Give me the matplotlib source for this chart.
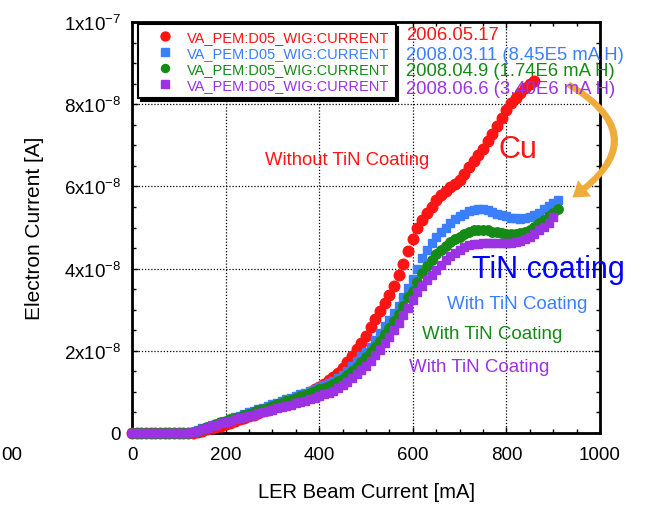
import matplotlib
matplotlib.use("Agg")
import matplotlib.pyplot as plt
from matplotlib.patches import FancyArrowPatch
from matplotlib.ticker import MultipleLocator, FixedLocator, FixedFormatter
import numpy as np

plt.rcParams['font.family'] = ['Liberation Sans', 'DejaVu Sans']
plt.rcParams['mathtext.default'] = 'regular'

# ---------------- data (electron current in units of 1e-8 A) -------------
x_red = list(range(0, 870, 10))
y_red = [0]*13 + [0.01, 0.03, 0.06, 0.09, 0.12, 0.15, 0.18, 0.21, 0.25, 0.29,
                  0.33, 0.37, 0.41, 0.45, 0.49, 0.53, 0.57, 0.61, 0.65, 0.69,
                  0.73, 0.77, 0.82, 0.87, 0.93, 0.99, 1.06, 1.13, 1.20, 1.28,
                  1.37, 1.46, 1.58, 1.72, 1.88, 2.05, 2.20, 2.37, 2.57, 2.77,
                  2.98, 3.16, 3.35, 3.58, 3.85, 4.12, 4.42, 4.72, 4.98, 5.18,
                  5.36, 5.50, 5.68, 5.80, 5.90, 5.98, 6.06, 6.16, 6.30, 6.46,
                  6.62, 6.77, 6.91, 7.10, 7.28, 7.47, 7.67, 7.86, 8.02, 8.16,
                  8.28, 8.40, 8.50, 8.56]

x_blue = list(range(0, 920, 10))
y_blue = [0]*13 + [0.03, 0.07, 0.11, 0.15, 0.19, 0.23, 0.27, 0.30, 0.34, 0.38,
                   0.42, 0.46, 0.50, 0.54, 0.58, 0.62, 0.66, 0.70, 0.74, 0.78,
                   0.82, 0.86, 0.90, 0.94, 0.98, 1.02, 1.07, 1.12, 1.17, 1.22,
                   1.27, 1.33, 1.42, 1.52, 1.63, 1.75, 1.87, 1.98, 2.10, 2.26,
                   2.44, 2.60, 2.75, 2.92, 3.10, 3.30, 3.52, 3.75, 4.00, 4.25,
                   4.45, 4.62, 4.77, 4.88, 4.98, 5.10, 5.20, 5.28, 5.34, 5.40,
                   5.43, 5.45, 5.44, 5.42, 5.38, 5.34, 5.30, 5.27, 5.24, 5.22,
                   5.21, 5.22, 5.25, 5.30, 5.36, 5.44, 5.52, 5.60, 5.66]

x_green = list(range(0, 920, 10))
y_green = [0]*13 + [0.02, 0.06, 0.10, 0.14, 0.18, 0.22, 0.26, 0.29, 0.33, 0.37,
                    0.40, 0.44, 0.47, 0.51, 0.55, 0.58, 0.62, 0.66, 0.70, 0.73,
                    0.77, 0.81, 0.85, 0.89, 0.93, 0.97, 1.01, 1.06, 1.10, 1.15,
                    1.20, 1.26, 1.32, 1.40, 1.50, 1.60, 1.72, 1.84, 1.96, 2.10,
                    2.25, 2.40, 2.56, 2.73, 2.90, 3.10, 3.30, 3.45, 3.68, 3.90,
                    4.07, 4.22, 4.35, 4.46, 4.55, 4.64, 4.72, 4.78, 4.84, 4.89,
                    4.93, 4.95, 4.95, 4.93, 4.90, 4.88, 4.86, 4.85, 4.84, 4.85,
                    4.87, 4.90, 4.95, 5.02, 5.10, 5.18, 5.27, 5.36, 5.45]

x_purple = list(range(0, 910, 10))
y_purple = [0]*13 + [0.02, 0.05, 0.09, 0.13, 0.17, 0.20, 0.24, 0.27, 0.30, 0.33,
                     0.36, 0.39, 0.42, 0.45, 0.48, 0.51, 0.54, 0.57, 0.60, 0.63,
                     0.66, 0.69, 0.72, 0.75, 0.78, 0.82, 0.86, 0.90, 0.94, 0.98,
                     1.03, 1.09, 1.16, 1.24, 1.33, 1.43, 1.53, 1.64, 1.76, 1.89,
                     2.03, 2.18, 2.33, 2.50, 2.68, 2.86, 3.05, 3.24, 3.42, 3.58,
                     3.72, 3.85, 3.97, 4.08, 4.20, 4.30, 4.38, 4.45, 4.52, 4.58,
                     4.60, 4.61, 4.62, 4.62, 4.62, 4.62, 4.62, 4.62, 4.63, 4.65,
                     4.68, 4.72, 4.78, 4.85, 4.93, 5.02, 5.12, 5.25]

legend_label = "VA_PEM:D05_WIG:CURRENT"
dates = ["2006.05.17", "2008.03.11 (8.45E5 mA H)",
         "2008.04.9 (1.74E6 mA H)", "2008.06.6 (3.40E6 mA H)"]
coat_labels = ["Without TiN Coating", "With TiN Coating",
               "With TiN Coating", "With TiN Coating"]

x_ticks = [0, 200, 400, 600, 800, 1000]
y_ticks = [0, 2e-8, 4e-8, 6e-8, 8e-8, 1e-7]
y_tick_labels = ["0", "2x10$^{-8}$", "4x10$^{-8}$", "6x10$^{-8}$",
                 "8x10$^{-8}$", "1x10$^{-7}$"]

RED = "#ff1414"
BLUE = "#3a7fff"
GREEN = "#168a16"
PURPLE = "#9b32e4"

W, H = 650, 506
fig = plt.figure(figsize=(W/100, H/100), dpi=100)
ax = fig.add_axes([132/W, 1-434/H, (600-132)/W, (434-23)/H])

def fx(px):
    return px / W

def fy(py):
    return 1 - py / H

s = 1e-8
h1, = ax.plot(x_red, np.array(y_red)*s, 'o', ms=7.6, color=RED, mec=RED,
              clip_on=False, zorder=3)
h2, = ax.plot(x_blue, np.array(y_blue)*s, 's', ms=6.4, color=BLUE, mec=BLUE,
              clip_on=False, zorder=4)
h3, = ax.plot(x_green, np.array(y_green)*s, 'o', ms=6.8, color=GREEN, mec=GREEN,
              clip_on=False, zorder=5)
h4, = ax.plot(x_purple, np.array(y_purple)*s, 's', ms=6.4, color=PURPLE, mec=PURPLE,
              clip_on=False, zorder=6)

ax.set_xlim(0, 1000)
ax.set_ylim(0, 1e-7)
ax.xaxis.set_major_locator(FixedLocator(x_ticks))
ax.xaxis.set_minor_locator(MultipleLocator(50))
ax.yaxis.set_major_locator(FixedLocator(y_ticks))
ax.yaxis.set_major_formatter(FixedFormatter(y_tick_labels))
ax.yaxis.set_minor_locator(MultipleLocator(0.5e-8))
ax.tick_params(which='both', direction='in', top=True, right=True,
               width=1.0, colors='black')
ax.tick_params(which='major', length=4, labelsize=13.5, pad=8)
ax.tick_params(which='minor', length=3)
ax.tick_params(axis='x', which='major', pad=9)
for sp in ax.spines.values():
    sp.set_linewidth(2)
ax.grid(True, which='major', color='black', linestyle=(0, (1, 1.5)), linewidth=0.9)
ax.set_axisbelow(True)

ax.set_xlabel("LER Beam Current [mA]", fontsize=14.5, labelpad=14)
ax.set_ylabel("Electron Current [A]", fontsize=15, labelpad=14)

leg = ax.legend([h1, h2, h3, h4], [legend_label]*4,
                loc='upper left', bbox_to_anchor=(fx(138), fy(25)),
                bbox_transform=fig.transFigure, borderaxespad=0,
                fontsize=10.5, frameon=True, fancybox=False,
                shadow={'color': 'black', 'alpha': 1.0},
                labelcolor=[RED, BLUE, GREEN, PURPLE], markerscale=0.85,
                handlelength=2.9, handletextpad=0.08, labelspacing=0.15,
                borderpad=0.4, edgecolor='black', framealpha=1)
leg.get_frame().set_linewidth(1.5)
leg.set_zorder(10)

# date texts
date_colors = [RED, BLUE, GREEN, PURPLE]
date_rows = [36, 55, 72, 90]
for t, c, r in zip(dates, date_colors, date_rows):
    fig.text(fx(406), fy(r), t, color=c, fontsize=13.3, ha='left', va='center',
             zorder=20)

# annotations
fig.text(fx(347), fy(161), coat_labels[0], color=RED, fontsize=13.3,
         ha='center', va='center')
fig.text(fx(518), fy(150), "Cu", color=RED, fontsize=22, ha='center', va='center')
fig.text(fx(548), fy(270), "TiN coating", color="#0000ff", fontsize=22,
         ha='center', va='center')
fig.text(fx(517), fy(305), coat_labels[1], color=BLUE, fontsize=13.5,
         ha='center', va='center')
fig.text(fx(492), fy(335), coat_labels[2], color=GREEN, fontsize=13.5,
         ha='center', va='center')
fig.text(fx(479), fy(367), coat_labels[3], color=PURPLE, fontsize=13.5,
         ha='center', va='center')

# stray label at bottom-left edge
fig.text(fx(1), fy(456), "00", fontsize=13.5, ha='left', va='center')

# curved orange arrow
arrow = FancyArrowPatch((fx(566), fy(84)), (fx(570), fy(200)),
                        transform=fig.transFigure,
                        connectionstyle="arc3,rad=-0.8",
                        arrowstyle="simple,head_length=1.1,head_width=1.5,tail_width=0.45",
                        mutation_scale=10, color="#eeac3a", lw=0, zorder=15)
fig.patches.append(arrow)

fig.savefig("out.png", dpi=100)
